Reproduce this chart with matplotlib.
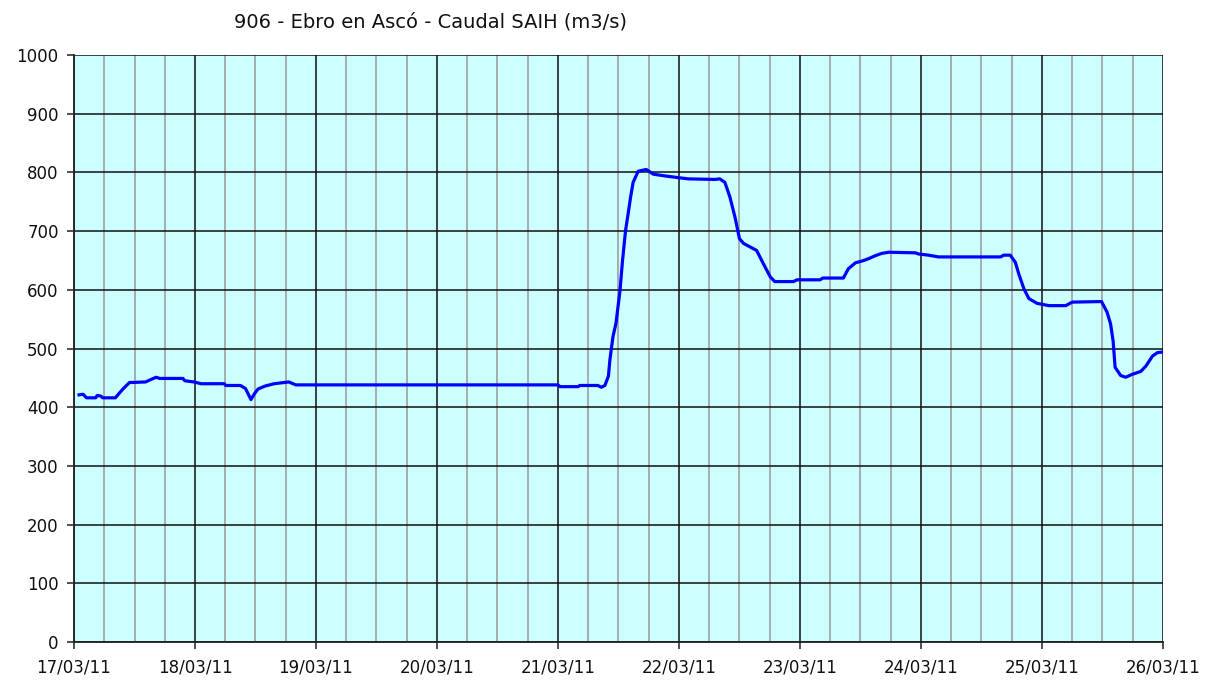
import matplotlib.pyplot as plt
import numpy as np

# hours since 17/03/11 00:00 and flow (m3/s)
hours = [1.0, 1.8, 2.5, 4.3, 4.6, 5.3, 5.7, 8.2, 9.6, 11.0, 14.2, 15.2, 16.3, 17.0,
         21.6, 22.0, 23.8, 25.2, 29.8, 30.1, 33.0, 34.0, 35.1, 35.8, 36.5, 37.9,
         39.7, 42.6, 44.0, 96.0, 96.4, 100.0, 100.3, 103.9, 104.6, 105.3, 106.0,
         106.3, 106.9, 107.5, 108.3, 108.8, 109.4, 109.9, 110.4, 110.9, 111.9,
         113.5, 114.9, 117.2, 121.8, 127.1, 128.1, 129.1, 130.1, 131.1, 132.0,
         132.8, 134.1, 135.4, 136.7, 138.1, 139.0, 142.7, 143.4, 148.0, 148.5,
         152.6, 153.6, 155.0, 156.3, 157.6, 158.9, 160.2, 161.6, 166.9, 167.5,
         169.5, 171.5, 183.8, 184.4, 185.7, 186.7, 187.4, 188.4, 189.4, 191.0,
         193.4, 196.7, 198.0, 203.8, 204.9, 205.6, 206.1, 206.5, 207.6, 208.6,
         209.9, 211.6, 212.6, 213.9, 214.9, 216.0]
caudal = [421, 422, 416, 416, 420, 419, 416, 416, 430, 442, 443, 447, 451, 449,
          449, 445, 443, 440, 440, 437, 437, 432, 413, 423, 431, 436,
          440, 443, 438, 438, 435, 435, 437, 437, 434, 437, 453,
          481, 520, 543, 599, 650, 701, 729, 758, 783, 802,
          805, 797, 794, 789, 788, 789, 783, 758, 724, 687,
          679, 673, 667, 645, 622, 614, 614, 617, 617, 620,
          620, 636, 646, 649, 653, 658, 662, 664, 663, 661,
          659, 656, 656, 659, 659, 647, 627, 602, 585, 577,
          573, 573, 579, 580, 562, 542, 513, 468, 454, 451,
          456, 461, 470, 487, 493, 494]

day_labels = ['17/03/11', '18/03/11', '19/03/11', '20/03/11', '21/03/11',
              '22/03/11', '23/03/11', '24/03/11', '25/03/11', '26/03/11']

fig = plt.figure(figsize=(12.21, 6.82), dpi=100)
ax = fig.add_axes([74 / 1221, 1 - 642 / 682, (1163 - 74) / 1221, (642 - 55) / 682])
ax.set_facecolor('#CCFFFF')

ax.set_xlim(0, 216)
ax.set_ylim(0, 1000)
ax.set_xticks(np.arange(0, 217, 24))
ax.set_xticklabels(day_labels)
ax.set_xticks(np.arange(0, 217, 6), minor=True)
ax.set_yticks(np.arange(0, 1001, 100))

ax.grid(True, which='major', color='#101010', lw=1.1)
ax.grid(True, which='minor', axis='x', color='#999999', lw=1.1)
ax.set_axisbelow(True)

ax.plot(hours, caudal, color='#0000FF', lw=2.3, solid_joinstyle='round')

for s in ['top', 'right']:
    ax.spines[s].set_visible(False)
for s in ['left', 'bottom']:
    ax.spines[s].set_color('#202020')
    ax.spines[s].set_linewidth(1.3)

ax.tick_params(axis='both', which='major', length=5, width=1.1, color='#202020',
               labelsize=12, labelcolor='#101010')
ax.tick_params(axis='x', which='minor', length=0)
ax.tick_params(axis='x', pad=7)
ax.tick_params(axis='y', pad=6)

fig.text(430 / 1221, 1 - 22 / 682, '906 - Ebro en Ascó - Caudal SAIH (m3/s)',
         ha='center', va='center', fontsize=14, color='#101010')

fig.savefig('out.png', dpi=100, facecolor='white')
